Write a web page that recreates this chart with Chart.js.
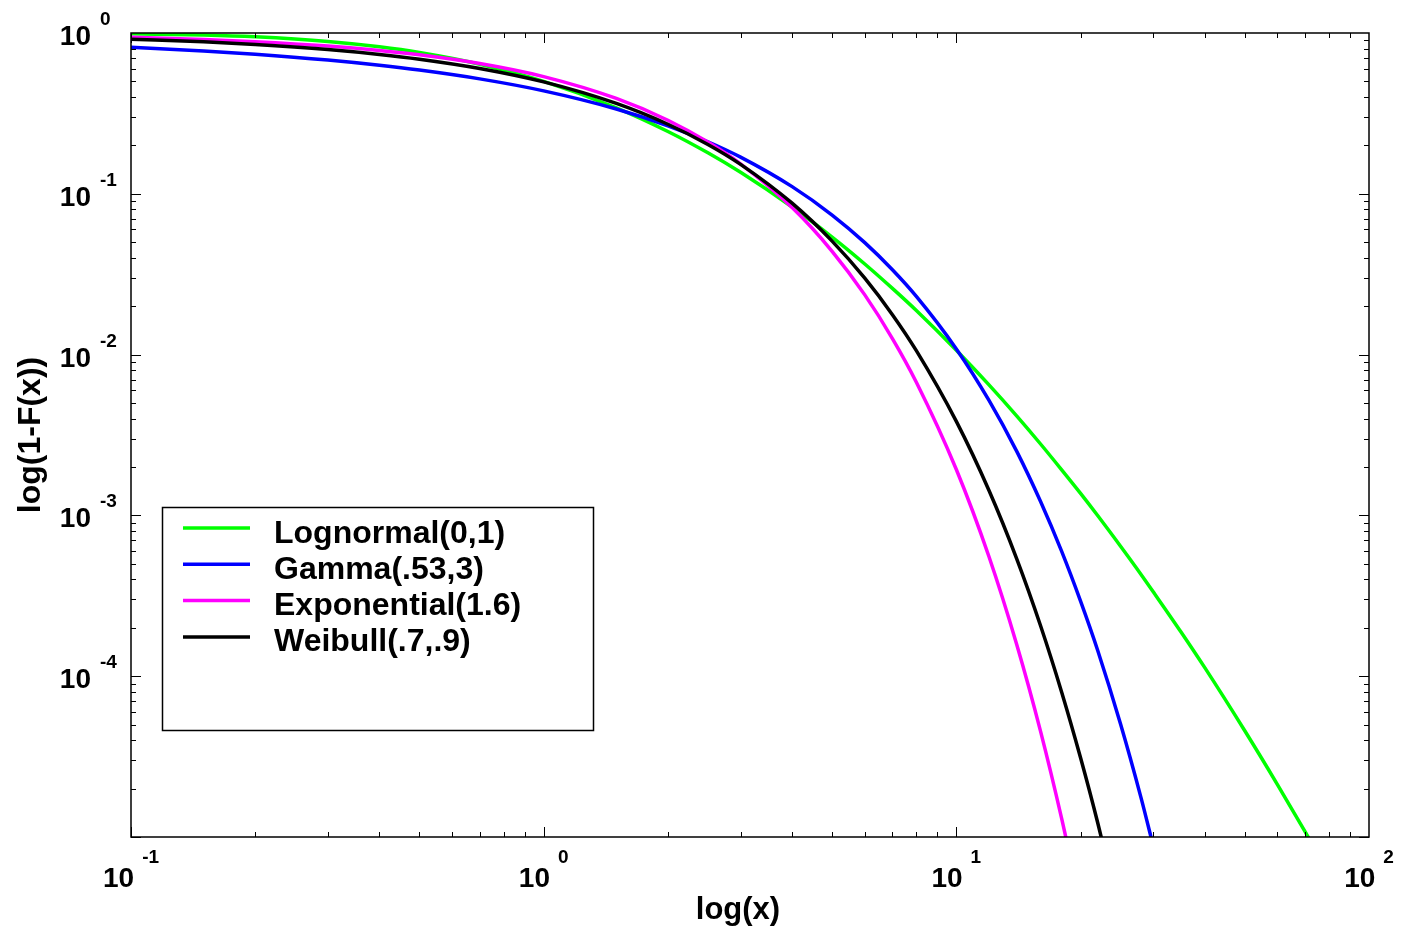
<!DOCTYPE html>
<html>
<head>
<meta charset="utf-8">
<script src="https://cdn.jsdelivr.net/npm/chart.js@4"></script>
<style>
  html, body { margin: 0; padding: 0; background: #fff; }
  canvas { display: block; }
</style>
</head>
<body>
<canvas id="grafico" width="1404" height="933"></canvas>
<script>
const xs = [0.1, 0.15, 0.2, 0.3, 0.4, 0.5, 0.7, 1, 1.5, 2, 2.5, 3, 4, 5, 6, 7, 8, 10, 12, 14, 16, 18, 20, 22, 25, 28, 30, 35, 40, 50, 60, 70, 75];

const lognormal = [0.9894, 0.9711, 0.9462, 0.8857, 0.8202, 0.7559, 0.6393, 0.5, 0.3426, 0.2441, 0.1798, 0.1360, 0.0828, 0.0538, 0.0366, 0.0258, 0.0188, 0.01065, 0.00648, 0.00416, 0.00278, 0.00192, 0.00137, 0.000998, 0.000643, 0.000431, 0.000335, 0.000189, 0.000113, 0.0000458, 0.0000212, 0.0000108, 0.0000079];
const gamma = [0.8163, 0.7736, 0.7379, 0.6787, 0.6299, 0.5880, 0.5183, 0.4366, 0.3368, 0.2647, 0.2107, 0.1691, 0.1108, 0.0738, 0.0497, 0.0337, 0.0230, 0.01085, 0.00519, 0.00251, 0.00122, 0.000597, 0.000293, 0.000145, 0.0000504, 0.0000177, 0.0000088];
const exponential = [0.9394, 0.9105, 0.8825, 0.8290, 0.7788, 0.7316, 0.6456, 0.5353, 0.3916, 0.2865, 0.2096, 0.1534, 0.0821, 0.0439, 0.02352, 0.01259, 0.006738, 0.001930, 0.000553, 0.000158, 0.0000454, 0.0000130, 0.00000373];
const weibull = [0.9157, 0.8808, 0.8484, 0.7891, 0.7357, 0.6872, 0.6018, 0.4966, 0.3649, 0.2708, 0.2026, 0.1524, 0.0874, 0.0508, 0.02987, 0.01772, 0.01058, 0.003843, 0.001428, 0.000539, 0.000206, 0.0000796, 0.0000311, 0.0000123, 0.00000308];

const seriesNames = ['Lognormal(0,1)', 'Gamma(.53,3)', 'Exponential(1.6)', 'Weibull(.7,.9)'];
const seriesValues = [lognormal, gamma, exponential, weibull];
const seriesColors = ['#00ff00', '#0000ff', '#ff00ff', '#000000'];

const xTickExps = [-1, 0, 1, 2];
const yTickExps = [0, -1, -2, -3, -4];
const xTitle = 'log(x)';
const yTitle = 'log(1-F(x))';

const FONT = '"Liberation Sans", Arial, sans-serif';

function toPoints(values) {
  const pts = [];
  values.forEach((v, i) => {
    if (v != null) pts.push({ x: xs[i], y: v });
  });
  return pts;
}

// ticks, tick labels, titles and legend drawn around the plot box
const moldura = {
  id: 'moldura',
  afterDraw(chart) {
    const c = chart.ctx;
    const a = chart.chartArea;
    const sx = chart.scales.x;
    const sy = chart.scales.y;

    c.save();
    c.strokeStyle = '#000';
    c.lineWidth = 1.5;
    c.strokeRect(a.left, a.top, a.right - a.left, a.bottom - a.top);

    c.lineWidth = 1;
    c.beginPath();
    for (let d = -1; d < 2; d++) {
      for (let m = 1; m < 10; m++) {
        const px = Math.round(sx.getPixelForValue(m * Math.pow(10, d))) + 0.5;
        const len = m === 1 ? 10 : 5;
        c.moveTo(px, a.bottom); c.lineTo(px, a.bottom - len);
        c.moveTo(px, a.top); c.lineTo(px, a.top + len);
      }
    }
    for (let d = -5; d < 0; d++) {
      for (let m = 1; m < 10; m++) {
        const py = Math.round(sy.getPixelForValue(m * Math.pow(10, d))) + 0.5;
        const len = m === 1 ? 10 : 5;
        c.moveTo(a.left, py); c.lineTo(a.left + len, py);
        c.moveTo(a.right, py); c.lineTo(a.right - len, py);
      }
    }
    c.stroke();

    c.fillStyle = '#000';
    const fBase = 'bold 28px ' + FONT;
    const fExp = 'bold 19px ' + FONT;

    // y tick labels
    yTickExps.forEach(e => {
      const py = sy.getPixelForValue(Math.pow(10, e));
      c.font = fBase;
      c.textAlign = 'right';
      c.textBaseline = 'alphabetic';
      c.fillText('10', 91, py + 12);
      c.font = fExp;
      c.textAlign = 'left';
      c.fillText(String(e), 100, py - 8);
    });

    // x tick labels
    xTickExps.forEach(e => {
      const px = sx.getPixelForValue(Math.pow(10, e));
      c.font = fBase;
      const w1 = c.measureText('10').width;
      c.font = fExp;
      const w2 = c.measureText(String(e)).width;
      const start = px - (w1 + 8 + w2) / 2;
      c.textAlign = 'left';
      c.textBaseline = 'alphabetic';
      c.font = fBase;
      c.fillText('10', start, 887);
      c.font = fExp;
      c.fillText(String(e), start + w1 + 8, 863);
    });

    // axis titles
    c.font = 'bold 31px ' + FONT;
    c.textAlign = 'center';
    c.textBaseline = 'alphabetic';
    c.fillText(xTitle, 738, 919);
    c.save();
    c.translate(40, (a.top + a.bottom) / 2);
    c.rotate(-Math.PI / 2);
    c.font = 'bold 32px ' + FONT;
    c.fillText(yTitle, 0, 0);
    c.restore();

    // legend
    c.fillStyle = '#fff';
    c.fillRect(163, 508, 430, 223);
    c.strokeStyle = '#000';
    c.lineWidth = 1.5;
    c.strokeRect(162.5, 507.5, 431, 223);
    c.font = 'bold 32px ' + FONT;
    c.textAlign = 'left';
    seriesNames.forEach((nome, i) => {
      const ly = 528 + i * 36.3;
      c.strokeStyle = seriesColors[i];
      c.lineWidth = 3.5;
      c.beginPath();
      c.moveTo(183, ly);
      c.lineTo(250, ly);
      c.stroke();
      c.fillStyle = '#000';
      c.fillText(nome, 274, ly + 14.5);
    });
    c.restore();
  }
};

const ctx = document.getElementById('grafico').getContext('2d');

const grafico = new Chart(ctx, {
  type: 'line',
  data: {
    datasets: seriesNames.map((nome, i) => ({
      label: nome,
      data: toPoints(seriesValues[i]),
      borderColor: seriesColors[i],
      backgroundColor: seriesColors[i],
      borderWidth: 3.5,
      pointRadius: 0,
      fill: false,
      cubicInterpolationMode: 'monotone',
      order: seriesNames.length - 1 - i
    }))
  },
  options: {
    responsive: false,
    animation: false,
    layout: {
      padding: { left: 131, right: 35, top: 33, bottom: 96 }
    },
    plugins: {
      legend: { display: false },
      tooltip: { enabled: false }
    },
    scales: {
      x: {
        type: 'logarithmic',
        min: 0.1,
        max: 100,
        grid: { display: false },
        border: { display: false },
        ticks: { display: false },
        afterFit: (s) => { s.height = 0; }
      },
      y: {
        type: 'logarithmic',
        min: 0.00001,
        max: 1,
        grid: { display: false },
        border: { display: false },
        ticks: { display: false },
        afterFit: (s) => { s.width = 0; }
      }
    }
  },
  plugins: [moldura]
});
</script>
</body>
</html>
